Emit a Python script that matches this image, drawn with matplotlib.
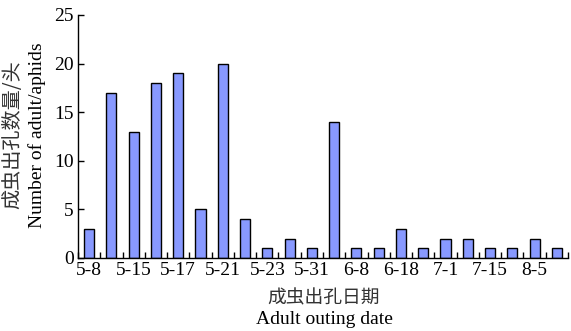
import matplotlib
matplotlib.use("Agg")
import matplotlib.pyplot as plt
import numpy as np

values = [3, 17, 13, 18, 19, 5, 20, 4, 1, 2, 1, 14, 1, 1, 3, 1, 2, 2, 1, 1, 2, 1]
tick_labels = ["5-8", "5-15", "5-17", "5-21", "5-23", "5-31", "6-8", "6-18", "7-1", "7-15", "8-5"]
yticks = [0, 5, 10, 15, 20, 25]

serif = ["Liberation Serif", "Noto Sans CJK SC"]
cjk = ["Noto Sans CJK SC", "Liberation Serif"]

fig = plt.figure(figsize=(5.71, 3.31), dpi=100)
ax = fig.add_axes([78/571, 1 - 258/331, (568-78)/571, (258-15)/331])

x = np.arange(len(values))
ax.bar(x, values, width=0.45, color="#8899FF", edgecolor="black", linewidth=1.0, zorder=2)

ax.set_xlim(-0.5, len(values) - 0.5)
ax.set_ylim(0, 25)
ax.set_yticks(yticks)
ax.set_yticklabels([str(v) for v in yticks], family=serif, fontsize=14)

ax.set_xticks(x[::2])
ax.set_xticklabels(tick_labels, family=serif, fontsize=14)
ax.set_xticks(np.arange(-0.5, len(values), 1.0), minor=True)
ax.tick_params(axis="x", which="major", length=0, pad=3)
ax.tick_params(axis="x", which="minor", direction="in", length=4, width=1)
ax.tick_params(axis="y", direction="in", length=4, width=1, pad=3)

for s in ["top", "right"]:
    ax.spines[s].set_visible(False)
for s in ["left", "bottom"]:
    ax.spines[s].set_linewidth(1.0)

fig.text(13/571, 1 - 135/331, "成虫出孔数量/头", rotation=90, ha="center", va="center",
         family=cjk, fontsize=14.5, color="#333333", fontweight="light")
fig.text(37/571, 1 - 135/331, "Number of adult/aphids", rotation=90, ha="center", va="center",
         family=serif, fontsize=14)
fig.text(324/571, 1 - 298/331, "成虫出孔日期", ha="center", va="center",
         family=cjk, fontsize=13.5, color="#333333", fontweight="light")
fig.text(324/571, 1 - 320/331, "Adult outing date", ha="center", va="center",
         family=serif, fontsize=14)

fig.savefig("out.png", dpi=100)
